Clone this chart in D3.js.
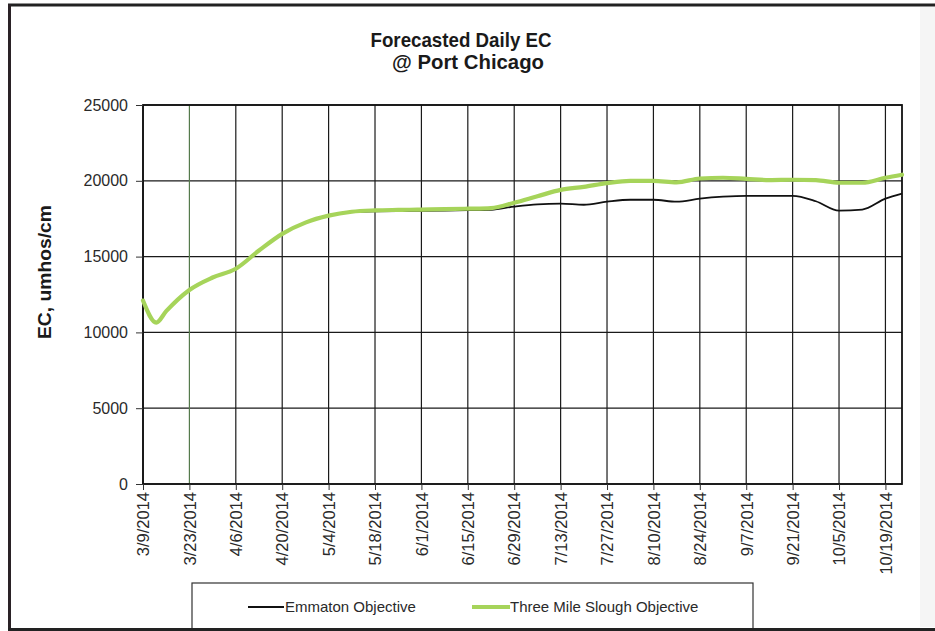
<!DOCTYPE html>
<html>
<head>
<meta charset="utf-8">
<script src="https://cdn.jsdelivr.net/npm/d3@7"></script>
<style>
  html, body { margin: 0; padding: 0; background: #fff; }
  svg { display: block; font-family: "Liberation Sans", Arial, sans-serif; }
</style>
</head>
<body>
<svg id="chart" width="935" height="631"></svg>
<script>
// Forecast dates (weekly, plus a few extra points where the curve turns)
const dates = [
  "3/9/2014", "3/13/2014", "3/16/2014", "3/23/2014", "3/30/2014", "4/6/2014", "4/13/2014",
  "4/20/2014", "4/27/2014", "5/4/2014", "5/11/2014", "5/18/2014", "5/25/2014", "6/1/2014",
  "6/8/2014", "6/15/2014", "6/22/2014", "6/29/2014", "7/6/2014", "7/13/2014", "7/20/2014",
  "7/27/2014", "8/3/2014", "8/10/2014", "8/17/2014", "8/24/2014", "8/31/2014", "9/7/2014",
  "9/14/2014", "9/21/2014", "9/28/2014", "10/5/2014", "10/12/2014", "10/19/2014", "10/24/2014"
];

// Daily EC, umhos/cm
const emmaton = [
  12100, 10650, 11400, 12800, 13620, 14200, 15400,
  16500, 17240, 17700, 17960, 17980, 18000, 18020,
  18040, 18060, 18090, 18300, 18450, 18490, 18420,
  18620, 18750, 18750, 18620, 18820, 18950, 19010,
  19000, 19010, 18650, 18030, 18100, 18820, 19150
];
const threeMileSlough = [
  12100, 10650, 11400, 12800, 13620, 14200, 15400,
  16500, 17240, 17700, 17960, 18050, 18080, 18100,
  18130, 18160, 18200, 18550, 18980, 19400, 19600,
  19850, 20000, 20000, 19900, 20150, 20200, 20130,
  20050, 20070, 20050, 19870, 19870, 20200, 20400
];

const tickDates = [
  "3/9/2014", "3/23/2014", "4/6/2014", "4/20/2014", "5/4/2014", "5/18/2014", "6/1/2014",
  "6/15/2014", "6/29/2014", "7/13/2014", "7/27/2014", "8/10/2014", "8/24/2014", "9/7/2014",
  "9/21/2014", "10/5/2014", "10/19/2014"
];
const yTicks = [0, 5000, 10000, 15000, 20000, 25000];
const xStart = "3/9/2014", xEnd = "10/24/2014";

const seriesNames = ["Emmaton Objective", "Three Mile Slough Objective"];

const parse = d3.timeParse("%-m/%-d/%Y");
const svg = d3.select("#chart");
const FONT = "Liberation Sans, Arial, sans-serif";

// Page frame
svg.append("line").attr("x1", 8).attr("x2", 935).attr("y1", 5).attr("y2", 5)
  .attr("stroke", "#222").attr("stroke-width", 3);
svg.append("line").attr("x1", 9.5).attr("x2", 9.5).attr("y1", 4).attr("y2", 631)
  .attr("stroke", "#2a2226").attr("stroke-width", 3);
svg.append("rect").attr("x", 920).attr("y", 7).attr("width", 15).attr("height", 620)
  .attr("fill", "#f5f5f5");

const plot = { left: 143, right: 902, top: 105, bottom: 484 };

const x = d3.scaleTime()
  .domain([parse(xStart), parse(xEnd)])
  .range([plot.left, plot.right]);
const y = d3.scaleLinear()
  .domain([0, 25000])
  .range([plot.bottom, plot.top]);

// Title (tall, narrow lettering)
svg.append("text").attr("x", 461).attr("y", 47).attr("text-anchor", "middle")
  .attr("font-size", 21).attr("font-weight", "bold").attr("fill", "#1a1a1a")
  .attr("textLength", 181).attr("lengthAdjust", "spacingAndGlyphs")
  .text("Forecasted Daily EC");
svg.append("text").attr("x", 468).attr("y", 69).attr("text-anchor", "middle")
  .attr("font-size", 21).attr("font-weight", "bold").attr("fill", "#1a1a1a")
  .attr("textLength", 152).attr("lengthAdjust", "spacingAndGlyphs")
  .text("@ Port Chicago");

// Grid lines
const grid = svg.append("g");
grid.selectAll("line.h").data(yTicks).join("line")
  .attr("x1", plot.left).attr("x2", plot.right)
  .attr("y1", d => y(d)).attr("y2", d => y(d))
  .attr("stroke", "#1a1a1a").attr("stroke-width", 1.2);
grid.selectAll("line.v").data(tickDates).join("line")
  .attr("x1", d => x(parse(d))).attr("x2", d => x(parse(d)))
  .attr("y1", plot.top).attr("y2", plot.bottom)
  .attr("stroke", d => d === "3/23/2014" ? "#557a4c" : "#1a1a1a")
  .attr("stroke-width", 1.2);

// Plot frame
svg.append("rect").attr("x", plot.left).attr("y", plot.top)
  .attr("width", plot.right - plot.left).attr("height", plot.bottom - plot.top)
  .attr("fill", "none").attr("stroke", "#111").attr("stroke-width", 1.8);

// Y axis
const yAxis = svg.append("g")
  .attr("transform", `translate(${plot.left},0)`)
  .call(d3.axisLeft(y).tickValues(yTicks).tickFormat(d3.format("d")).tickSize(7).tickPadding(8));
yAxis.select(".domain").remove();
yAxis.selectAll("line").attr("stroke", "#333");
yAxis.selectAll("text").attr("font-size", 16).attr("fill", "#2a2a2a").attr("font-family", FONT);

// X axis
const xAxis = svg.append("g")
  .attr("transform", `translate(0,${plot.bottom})`)
  .call(d3.axisBottom(x).tickValues(tickDates.map(parse)).tickFormat(d3.timeFormat("%-m/%-d/%Y")).tickSize(6));
xAxis.select(".domain").remove();
xAxis.selectAll("line").attr("stroke", "#333");
xAxis.selectAll("text")
  .attr("font-size", 16.5).attr("fill", "#2a2a2a").attr("font-family", FONT)
  .attr("text-anchor", "end")
  .attr("transform", "rotate(-90)")
  .attr("x", -8).attr("y", 0).attr("dy", "0.35em");

// Y axis title
svg.append("text")
  .attr("transform", "translate(51,272) rotate(-90)")
  .attr("text-anchor", "middle").attr("font-size", 18.5).attr("font-weight", "bold")
  .attr("fill", "#1a1a1a")
  .attr("textLength", 134).attr("lengthAdjust", "spacingAndGlyphs")
  .text("EC, umhos/cm");

// Series lines (Emmaton underneath, Three Mile Slough on top)
const rows = dates.map((d, i) => ({ date: parse(d), em: emmaton[i], tms: threeMileSlough[i] }));
const line = key => d3.line().curve(d3.curveMonotoneX)
  .x(d => x(d.date)).y(d => y(d[key]));

svg.append("path").datum(rows).attr("d", line("em"))
  .attr("fill", "none").attr("stroke", "#111").attr("stroke-width", 1.8)
  .attr("stroke-linejoin", "round");
svg.append("path").datum(rows).attr("d", line("tms"))
  .attr("fill", "none").attr("stroke", "#a6d45a").attr("stroke-width", 4.2)
  .attr("stroke-linejoin", "round").attr("stroke-linecap", "round");

// Legend
const lg = svg.append("g");
lg.append("rect").attr("x", 192).attr("y", 583).attr("width", 561).attr("height", 50)
  .attr("fill", "#fff").attr("stroke", "#333").attr("stroke-width", 1.2);
lg.append("line").attr("x1", 248).attr("x2", 284).attr("y1", 607).attr("y2", 607)
  .attr("stroke", "#111").attr("stroke-width", 2);
lg.append("text").attr("x", 285).attr("y", 612).attr("font-size", 15).attr("fill", "#2a2a2a")
  .text(seriesNames[0]);
lg.append("line").attr("x1", 472).attr("x2", 510).attr("y1", 607).attr("y2", 607)
  .attr("stroke", "#a6d45a").attr("stroke-width", 4);
lg.append("text").attr("x", 510).attr("y", 612).attr("font-size", 15).attr("fill", "#2a2a2a")
  .text(seriesNames[1]);

// Bottom edge of the page frame, over the legend box
svg.append("line").attr("x1", 8).attr("x2", 935).attr("y1", 629.5).attr("y2", 629.5)
  .attr("stroke", "#222").attr("stroke-width", 3);
</script>
</body>
</html>
